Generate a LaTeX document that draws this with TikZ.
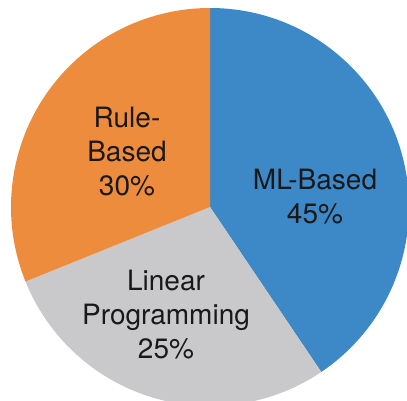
\documentclass[tikz,border=0pt]{standalone}
\usepackage{fontspec}
\setmainfont{TeX Gyre Heros}
\definecolor{mlcol}{RGB}{61,136,198}
\definecolor{lpcol}{RGB}{201,201,203}
\definecolor{rulecol}{RGB}{238,140,62}
\definecolor{textcol}{RGB}{25,25,25}

\begin{document}
\begin{tikzpicture}[
			x=1pt, y=1pt,
			slicetext/.style={
				align=center,
				inner sep=0pt,
				text=textcol,
				font=\fontsize{28}{34}\selectfont
			}
			]
			\useasboundingbox (0,0) rectangle (407,401);
			\coordinate (c) at (210,194);
			\def\r{199}
			
			% Slices
			\fill[mlcol] (c) -- ++(90:\r) arc[start angle=90, end angle=-56, radius=\r] -- cycle;
			\fill[lpcol] (c) -- ++(-56:\r) arc[start angle=-56, end angle=-158, radius=\r] -- cycle;
			\fill[rulecol] (c) -- ++(202:\r) arc[start angle=202, end angle=90, radius=\r] -- cycle;
			
			% Labels
			\node[slicetext] (ml)   at (315,204) {ML-Based\\45\%};
			\node[slicetext] (lp)   at (166,86)  {Linear\\Programming\\25\%};
			\node[slicetext] (rule) at (127,249) {Rule-\\Based\\30\%};
		\end{tikzpicture}
\end{document}
